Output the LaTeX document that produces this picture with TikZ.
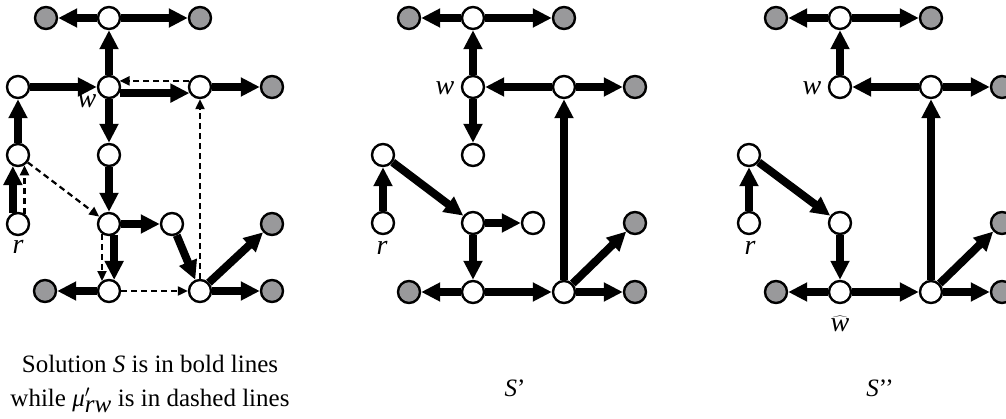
\documentclass[tikz,border=0pt]{standalone}
\usepackage{fontspec}
\setmainfont{Liberation Serif}
\usetikzlibrary{arrows.meta}
\pgfdeclarelayer{bg}
\pgfsetlayers{bg,main}
\definecolor{nodegray}{RGB}{153,153,155}
\begin{document}
\begin{tikzpicture}[x=1pt,y=-1pt,
  wn/.style={circle,draw=black,line width=2.4pt,fill=white,minimum size=22pt,inner sep=0pt},
  gn/.style={wn,fill=nodegray},
  bd/.style={line width=8pt,-{Triangle[length=19pt,width=18pt]}},
  dsh/.style={line width=2.2pt,dash pattern=on 6pt off 4pt,-{Triangle[length=10pt,width=9pt]}},
  lbl/.style={font=\fontsize{28}{32}\selectfont\itshape,inner sep=0pt},
  captext/.style={font=\fontsize{25}{30}\selectfont,inner sep=0pt}]
\useasboundingbox (0,0) rectangle (1006,419);
% ---------- panel 1 ----------
\node[wn] (a1) at (109,18) {};
\node[gn] (g1a) at (46,18) {};
\node[gn] (g1b) at (200,18) {};
\node[wn] (l1) at (18,87) {};
\node[wn] (w1) at (109,87) {};
\node[wn] (e1) at (200,87) {};
\node[gn] (g1c) at (272,87) {};
\node[wn] (m1) at (18,155) {};
\node[wn] (c1) at (109,155) {};
\node[wn] (r1) at (18,224) {};
\node[wn] (d1) at (109,224) {};
\node[wn] (f1) at (172,224) {};
\node[gn] (g1d) at (272,224) {};
\node[gn] (g1e) at (45,291) {};
\node[wn] (b1) at (109,291) {};
\node[wn] (h1) at (200,291) {};
\node[gn] (g1f) at (272,291) {};
\node[lbl] (lw1) at (87,101) {w};
\node[lbl] (lr1) at (18,247) {r};
\node[captext] (cp1a) at (150,364) {Solution \textit{S} is in bold lines};
\node[captext] (cp1b) at (150,400) {while $\textit{μ}'_{\textit{rw}}$ is in dashed lines};
\begin{pgfonlayer}{bg}
\draw[bd] (a1) -- (g1a);
\draw[bd] (a1) -- (g1b);
\draw[bd] (w1) -- (a1);
\draw[bd] (l1) -- (w1);
\draw[bd] (w1.-30) -- (e1.-150);
\draw[bd] (e1) -- (g1c);
\draw[bd] (w1) -- (c1);
\draw[bd] (m1) -- (l1);
\draw[bd] (r1.115) -- (m1.245);
\draw[bd] (c1) -- (d1);
\draw[bd] (d1) -- (f1);
\draw[bd] (f1) -- (h1);
\draw[bd] (d1.-65) -- (b1.65);
\draw[bd] (b1) -- (g1e);
\draw[bd] (h1) -- (g1d);
\draw[bd] (h1) -- (g1f);
\draw[dsh] (r1.58) -- (m1.-58);
\draw[dsh] (m1) -- (d1);
\draw[dsh] (d1.-125) -- (b1.125);
\draw[dsh] (b1) -- (h1);
\draw[dsh] (h1) -- (e1);
\draw[dsh] (e1.150) -- (w1.30);
\end{pgfonlayer}
% ---------- panel 2 ----------
\node[wn] (a2) at (473,18) {};
\node[gn] (g2a) at (409,18) {};
\node[gn] (g2b) at (564,18) {};
\node[wn] (w2) at (473,87) {};
\node[wn] (e2) at (564,87) {};
\node[gn] (g2c) at (635,87) {};
\node[wn] (m2) at (383,155) {};
\node[wn] (c2) at (473,155) {};
\node[wn] (r2) at (383,223) {};
\node[wn] (d2) at (473,223) {};
\node[wn] (f2) at (533,223) {};
\node[gn] (g2d) at (635,223) {};
\node[gn] (g2e) at (409,292) {};
\node[wn] (b2) at (473,292) {};
\node[wn] (h2) at (564,292) {};
\node[gn] (g2f) at (635,292) {};
\node[lbl] (lw2) at (445,88) {w};
\node[lbl] (lr2) at (382,248) {r};
\node[captext] (cp2) at (515,388) {\textit{S}’};
\begin{pgfonlayer}{bg}
\draw[bd] (a2) -- (g2a);
\draw[bd] (a2) -- (g2b);
\draw[bd] (w2) -- (a2);
\draw[bd] (e2) -- (w2);
\draw[bd] (e2) -- (g2c);
\draw[bd] (w2) -- (c2);
\draw[bd] (r2) -- (m2);
\draw[bd] (m2) -- (d2);
\draw[bd] (d2) -- (f2);
\draw[bd] (d2) -- (b2);
\draw[bd] (b2) -- (g2e);
\draw[bd] (b2) -- (h2);
\draw[bd] (h2) -- (e2);
\draw[bd] (h2) -- (g2d);
\draw[bd] (h2) -- (g2f);
\end{pgfonlayer}
% ---------- panel 3 ----------
\node[wn] (a3) at (840,18) {};
\node[gn] (g3a) at (776,18) {};
\node[gn] (g3b) at (931,18) {};
\node[wn] (w3) at (840,87) {};
\node[wn] (e3) at (931,87) {};
\node[gn] (g3c) at (1002,87) {};
\node[wn] (m3) at (749,155) {};
\node[wn] (r3) at (749,223) {};
\node[wn] (d3) at (840,223) {};
\node[gn] (g3d) at (1002,223) {};
\node[gn] (g3e) at (776,292) {};
\node[wn] (b3) at (840,292) {};
\node[wn] (h3) at (931,292) {};
\node[gn] (g3f) at (1002,292) {};
\node[lbl] (lw3) at (812,88) {w};
\node[lbl] (lr3) at (750,248) {r};
\node[lbl] (lb3) at (840,324) {$\widehat{\textit{w}}$};
\node[captext] (cp3) at (880,388) {\textit{S}’’};
\begin{pgfonlayer}{bg}
\draw[bd] (a3) -- (g3a);
\draw[bd] (a3) -- (g3b);
\draw[bd] (w3) -- (a3);
\draw[bd] (e3) -- (w3);
\draw[bd] (e3) -- (g3c);
\draw[bd] (r3) -- (m3);
\draw[bd] (m3) -- (d3);
\draw[bd] (d3) -- (b3);
\draw[bd] (b3) -- (g3e);
\draw[bd] (b3) -- (h3);
\draw[bd] (h3) -- (e3);
\draw[bd] (h3) -- (g3d);
\draw[bd] (h3) -- (g3f);
\end{pgfonlayer}
\end{tikzpicture}
\end{document}
